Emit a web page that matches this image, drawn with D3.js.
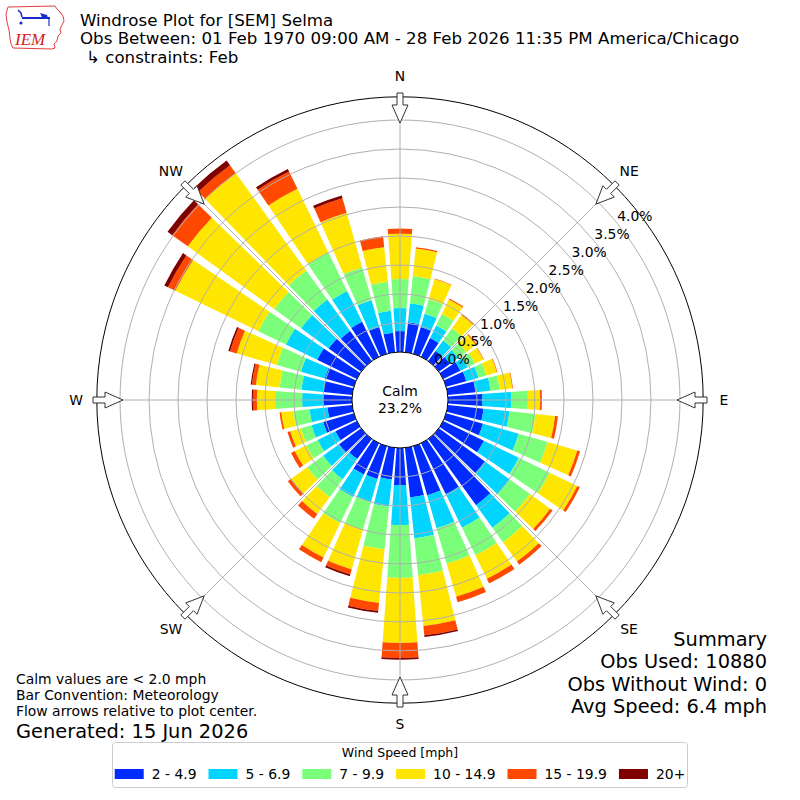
<!DOCTYPE html>
<html><head><meta charset="utf-8">
<script src="https://cdn.jsdelivr.net/npm/d3@7"></script>
<style>
body{margin:0;background:#fff}
svg{display:block}
text{font-family:"DejaVu Sans",sans-serif;fill:#000}
</style>
</head><body>
<svg id="chart" width="800" height="800"></svg>
<script>
// ---------------- data ----------------
const directions = [0,10,20,30,40,50,60,70,80,90,100,110,120,130,140,150,160,170,180,190,200,210,220,230,240,250,260,270,280,290,300,310,320,330,340,350];
const speedBins = ["2 - 4.9","5 - 6.9","7 - 9.9","10 - 14.9","15 - 19.9","20+"];
const binColors = ["#002bff","#00d4ff","#7bff7b","#ffe600","#ff4800","#800000"];
// percent of observations per direction per speed bin
const pct_2_5   = [.36,.52,.48,.36,.22,.24,.33,.36,.48,.59,.62,.66,.78,.98,1.41,.98,.88,.86,.64,.55,.59,.60,.43,.47,.41,.55,.43,.50,.50,.52,.76,.69,.64,.67,.48,.34];
const pct_5_7   = [.40,.33,.24,.24,.22,.17,.14,.22,.26,.50,.45,.64,.67,.53,.48,.64,.59,.71,.69,.47,.41,.43,.43,.34,.34,.21,.31,.36,.38,.43,.60,.59,.67,.59,.48,.38];
const pct_7_10  = [.50,.47,.26,.22,.26,.17,.14,.14,.16,.29,.45,.52,.59,.43,.31,.53,.64,.64,.91,.74,.50,.50,.38,.34,.22,.19,.28,.47,.38,.43,.53,.57,.62,.74,.59,.50];
const pct_10_15 = [.78,.48,.36,.28,.28,.21,.16,.19,.22,.21,.34,.53,.53,.43,.41,.45,.59,.88,1.12,.93,.71,.66,.36,.34,.22,.19,.21,.31,.41,.72,1.59,1.84,2.07,1.22,.98,.60];
const pct_15_20 = [.09,.02,.01,.02,.02,.02,.01,.01,.01,.03,.05,.05,.05,.05,.07,.09,.10,.16,.26,.14,.09,.09,.10,.07,.07,.05,.03,.07,.07,.12,.14,.33,.17,.33,.26,.19];
const pct_20up  = [0,0,0,0,0,0,0,0,0,0,0,0,0,0,0,0,0,.03,.03,.03,.03,0,0,0,0,0,0,.02,.02,.03,.07,.10,.10,.05,.05,0];
const radialTicks = [0,0.5,1.0,1.5,2.0,2.5,3.0,3.5,4.0];
const compassLabels = ["N","NE","E","SE","S","SW","W","NW"];
const compassAngles = [0,45,90,135,180,225,270,315];
const calmPct = 23.2;
const titleLines = ["Windrose Plot for [SEM] Selma","Obs Between: 01 Feb 1970 09:00 AM - 28 Feb 2026 11:35 PM America/Chicago"];
const constraintLine = "\u21B3 constraints: Feb";
const summaryLines = ["Summary","Obs Used: 10880","Obs Without Wind: 0","Avg Speed: 6.4 mph"];
const noteLines = ["Calm values are < 2.0 mph","Bar Convention: Meteorology","Flow arrows relative to plot center."];
const generatedLine = "Generated: 15 Jun 2026";
const legendTitle = "Wind Speed [mph]";

// ---------------- setup ----------------
const svg = d3.select("#chart");
const cx = 400, cy = 400;
const rScale = d3.scaleLinear().domain([0, 4.4]).range([48, 303.2]);
const aScale = d3.scaleLinear().domain([0, 360]).range([0, 2 * Math.PI]);
const halfWidth = 4.1; // degrees

const binArrays = [pct_2_5, pct_5_7, pct_7_10, pct_10_15, pct_15_20, pct_20up];
const keys = speedBins;
const table = directions.map((d, i) => {
  const row = { dir: d };
  keys.forEach((k, j) => row[k] = binArrays[j][i]);
  return row;
});
const series = d3.stack().keys(keys)(table);

const g = svg.append("g").attr("transform", `translate(${cx},${cy})`);

// bars
const arc = d3.arc()
  .innerRadius(d => rScale(d[0]))
  .outerRadius(d => rScale(d[1]))
  .startAngle(d => aScale(d.data.dir - halfWidth))
  .endAngle(d => aScale(d.data.dir + halfWidth));

g.selectAll("g.series").data(series).join("g")
  .attr("class", "series")
  .attr("fill", (s, i) => binColors[i])
  .selectAll("path").data(s => s.filter(d => d[1] - d[0] > 0)).join("path")
  .attr("d", arc);

// grid circles
g.selectAll("circle.grid").data(radialTicks.filter(t => t > 0)).join("circle")
  .attr("class", "grid")
  .attr("r", d => rScale(d))
  .attr("fill", "none").attr("stroke", "#b0b0b0").attr("stroke-width", 1);

// radial lines
g.selectAll("line.spoke").data(compassAngles).join("line")
  .attr("class", "spoke")
  .attr("x1", d => rScale(0) * Math.sin(aScale(d)))
  .attr("y1", d => -rScale(0) * Math.cos(aScale(d)))
  .attr("x2", d => rScale(4.4) * Math.sin(aScale(d)))
  .attr("y2", d => -rScale(4.4) * Math.cos(aScale(d)))
  .attr("stroke", "#b0b0b0").attr("stroke-width", 1);

// calm circle
g.append("circle").attr("r", rScale(0)).attr("fill", "#fff").attr("stroke", "#000").attr("stroke-width", 1);
g.append("text").attr("x", 0).attr("y", -4).attr("text-anchor", "middle").attr("font-size", 13.9).text("Calm");
g.append("text").attr("x", 0).attr("y", 13).attr("text-anchor", "middle").attr("font-size", 13.9).text(calmPct.toFixed(1) + "%");

// outer circle
g.append("circle").attr("r", rScale(4.4)).attr("fill", "none").attr("stroke", "#000").attr("stroke-width", 1);

// arrows
const arrowShape = [[307,-3],[295,-3],[295,-8],[277,0],[295,8],[295,3],[307,3]];
g.selectAll("path.arrow").data(compassAngles).join("path")
  .attr("class", "arrow")
  .attr("d", a => {
    const t = aScale(a);
    const pts = arrowShape.map(([rr, tt]) => [rr * Math.sin(t) + tt * Math.cos(t), -rr * Math.cos(t) + tt * Math.sin(t)]);
    return d3.line()(pts) + "Z";
  })
  .attr("fill", "#fff").attr("stroke", "#333").attr("stroke-width", 1);

// compass labels
g.selectAll("text.dir").data(compassAngles).join("text")
  .attr("class", "dir")
  .attr("x", a => 324 * Math.sin(aScale(a)))
  .attr("y", a => -324 * Math.cos(aScale(a)))
  .attr("dy", "0.35em")
  .attr("text-anchor", "middle").attr("font-size", 13.9)
  .text((a, i) => compassLabels[i]);

// radial labels
const labAng = aScale(52);
g.selectAll("text.rlab").data(radialTicks).join("text")
  .attr("class", "rlab")
  .attr("x", d => (rScale(d) + 18) * Math.sin(labAng))
  .attr("y", d => -(rScale(d) + 18) * Math.cos(labAng))
  .attr("dy", "0.35em")
  .attr("text-anchor", "middle").attr("font-size", 13.9)
  .text(d => d3.format(".1f")(d) + "%");

// ---------------- titles ----------------
svg.selectAll("text.title").data(titleLines).join("text")
  .attr("class", "title").attr("x", 80).attr("y", (d, i) => 26 + i * 18)
  .attr("font-size", 16.67).text(d => d);
svg.append("text").attr("x", 86).attr("y", 62.5).attr("font-size", 16.67).text(constraintLine);

// logo
const logo = svg.append("g");
logo.append("path")
  .attr("d", "M8,7 L55,6 L57,9 L60,12 L63,16 L64,21 L62,25 L60,29 L61,33 L58,36 L57,41 L54,44 L55,48 L52,49 L13,48 L11,44 L10,38 L9,30 L7,22 L6,14 Z")
  .attr("fill", "#fff").attr("stroke", "#e04040").attr("stroke-width", 1);
logo.append("line").attr("x1", 22).attr("y1", 18).attr("x2", 50).attr("y2", 18).attr("stroke", "#1a2bcc").attr("stroke-width", 2);
logo.append("path").attr("d", "M18,10 L21,13 L22,17").attr("fill", "none").attr("stroke", "#1a2bcc").attr("stroke-width", 1.5);
logo.append("path").attr("d", "M40,13 L47,15 L48,18 L42,17 Z").attr("fill", "#1a2bcc");
logo.append("circle").attr("cx", 21).attr("cy", 23).attr("r", 1.6).attr("fill", "#1a2bcc");
logo.append("line").attr("x1", 49).attr("y1", 18).attr("x2", 49).attr("y2", 26).attr("stroke", "#1a2bcc").attr("stroke-width", 1.2);
logo.append("text").attr("x", 15).attr("y", 45).attr("font-size", 17)
  .style("font-family", "'Liberation Serif','DejaVu Serif',serif").style("font-style", "italic")
  .style("fill", "#d42020").text("IEM");

// summary
svg.selectAll("text.summary").data(summaryLines).join("text")
  .attr("class", "summary").attr("x", 767).attr("y", (d, i) => 646 + i * 22.3)
  .attr("text-anchor", "end").attr("font-size", 19.4).text(d => d);

// notes
svg.selectAll("text.note").data(noteLines).join("text")
  .attr("class", "note").attr("x", 16).attr("y", (d, i) => 684 + i * 16.2)
  .attr("font-size", 13.9).text(d => d);
svg.append("text").attr("x", 16).attr("y", 738).attr("font-size", 19.4).text(generatedLine);

// ---------------- legend ----------------
const leg = svg.append("g");
leg.append("rect").attr("x", 112.5).attr("y", 742.5).attr("width", 575).attr("height", 45).attr("rx", 3)
  .attr("fill", "#fff").attr("stroke", "#cccccc").attr("stroke-width", 1);
leg.append("text").attr("x", 400).attr("y", 757).attr("text-anchor", "middle").attr("font-size", 12.5).text(legendTitle);
const items = leg.selectAll("g.item").data(speedBins).join("g").attr("class", "item");
items.append("rect").attr("width", 29).attr("height", 10).attr("y", 769).attr("fill", (d, i) => binColors[i]);
items.append("text").attr("y", 779).attr("font-size", 13.9).text(d => d);
// layout items
const widths = [];
items.select("text").each(function () { widths.push(this.getComputedTextLength()); });
const gap = 12, swW = 29, swGap = 8;
const total = d3.sum(widths) + speedBins.length * (swW + swGap) + gap * (speedBins.length - 1);
let xpos = 400 - total / 2;
items.each(function (d, i) {
  const it = d3.select(this);
  it.select("rect").attr("x", xpos);
  it.select("text").attr("x", xpos + swW + swGap);
  xpos += swW + swGap + widths[i] + gap;
});
</script>
</body></html>
